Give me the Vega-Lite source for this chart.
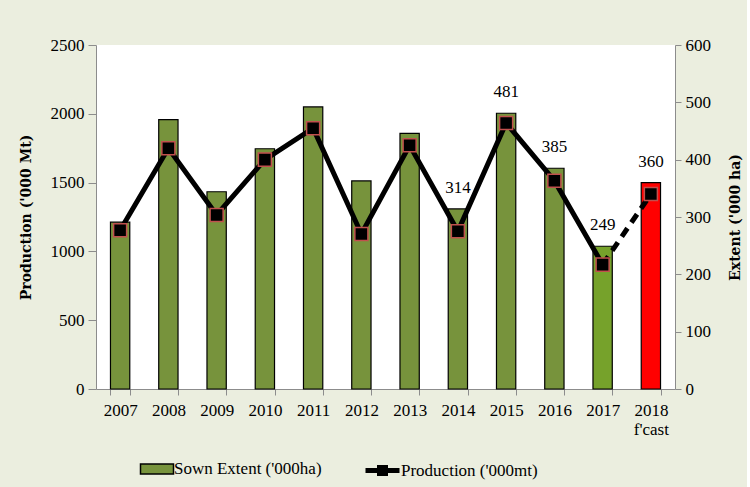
{
  "$schema": "https://vega.github.io/schema/vega-lite/v6.json",
  "width": 579,
  "height": 344,
  "padding": {"left": 19, "top": 36, "right": 4, "bottom": 4},
  "background": "#ebeedf",
  "config": {
    "view": {"fill": "white", "stroke": null},
    "axis": {"domainColor": "#8c8c8c", "tickColor": "#8c8c8c", "grid": false, "labelColor": "black", "titleColor": "black"},
    "legend": {"labelFont": "Liberation Serif", "labelFontSize": 17, "labelLimit": 300, "labelColor": "black"}
  },
  "data": {
    "values": [
      {"year": "2007", "extent": 291, "production": 1153, "label": null},
      {"year": "2008", "extent": 470, "production": 1749, "label": null},
      {"year": "2009", "extent": 344, "production": 1265, "label": null},
      {"year": "2010", "extent": 419, "production": 1667, "label": null},
      {"year": "2011", "extent": 492, "production": 1895, "label": null},
      {"year": "2012", "extent": 363, "production": 1127, "label": null},
      {"year": "2013", "extent": 446, "production": 1771, "label": null},
      {"year": "2014", "extent": 314, "production": 1146, "label": "314"},
      {"year": "2015", "extent": 481, "production": 1933, "label": "481"},
      {"year": "2016", "extent": 385, "production": 1514, "label": "385"},
      {"year": "2017", "extent": 249, "production": 904, "label": "249"},
      {"year": "2018", "extent": 360, "production": 1417, "label": "360"}
    ]
  },
  "encoding": {
    "x": {
      "field": "year",
      "type": "nominal",
      "scale": {"paddingInner": 0.6, "paddingOuter": 0.3},
      "axis": {
        "title": null,
        "labelAngle": 0,
        "labelFont": "Liberation Serif",
        "labelFontSize": 17,
        "tickBand": "extent",
        "tickSize": 6,
        "labelPadding": 7,
        "labelExpr": "datum.value == '2018' ? ['2018', \"f'cast\"] : datum.value"
      }
    }
  },
  "layer": [
    {
      "layer": [
        {
          "mark": {"type": "bar", "stroke": "black", "strokeWidth": 1.2},
          "encoding": {
            "y": {
              "field": "extent",
              "type": "quantitative",
              "scale": {"domain": [0, 600], "nice": false},
              "axis": {
                "orient": "right",
                "title": "Extent ('000 ha)",
                "titleAngle": 270,
                "titleFont": "DejaVu Serif",
                "titleFontWeight": "bold",
                "titleFontSize": 14,
                "titlePadding": 32,
                "labelFont": "Liberation Serif",
                "labelFontSize": 17,
                "format": "d",
                "values": [0, 100, 200, 300, 400, 500, 600],
                "tickSize": 6,
                "labelPadding": 4
              }
            },
            "fill": {
              "datum": "Sown Extent ('000ha)",
              "type": "nominal",
              "scale": {"range": ["#77933c"]},
              "condition": [
                {"test": "datum.year == '2018'", "value": "#ff0000"},
                {"test": "datum.year == '2017'", "value": "#76a22b"}
              ],
              "legend": {
                "title": null,
                "orient": "none",
                "legendX": 50,
                "legendY": 413,
                "labelOffset": 6,
                "symbolType": "M-1.65,-0.5H1.65V0.5H-1.65Z",
                "symbolSize": 400,
                "symbolStrokeColor": "black",
                "symbolStrokeWidth": 1.5
              }
            }
          }
        },
        {
          "transform": [{"filter": "datum.label != null"}],
          "mark": {"type": "text", "dy": -21, "font": "Liberation Serif", "fontSize": 17, "color": "black"},
          "encoding": {
            "y": {"field": "extent", "type": "quantitative"},
            "text": {"field": "label"}
          }
        }
      ]
    },
    {
      "layer": [
        {
          "transform": [{"filter": "datum.year != '2018'"}],
          "mark": {"type": "line", "strokeWidth": 5},
          "encoding": {
            "y": {
              "field": "production",
              "type": "quantitative",
              "scale": {"domain": [0, 2500], "nice": false},
              "axis": {
                "orient": "left",
                "title": "Production ('000 Mt)",
                "titleFont": "DejaVu Serif",
                "titleFontWeight": "bold",
                "titleFontSize": 14,
                "titlePadding": 17,
                "labelFont": "Liberation Serif",
                "labelFontSize": 17,
                "format": "d",
                "values": [0, 500, 1000, 1500, 2000, 2500],
                "tickSize": 8,
                "labelPadding": 4
              }
            },
            "stroke": {
              "datum": "Production ('000mt)",
              "type": "nominal",
              "scale": {"range": ["black"]},
              "legend": {
                "title": null,
                "orient": "none",
                "legendX": 274,
                "legendY": 413,
                "labelOffset": 6,
                "symbolType": "M-1.7,0H1.7M-0.3,-0.3H0.3V0.3H-0.3Z",
                "symbolSize": 400,
                "symbolStrokeWidth": 5,
                "symbolFillColor": "black"
              }
            }
          }
        },
        {
          "transform": [{"filter": "datum.year == '2017' || datum.year == '2018'"}],
          "mark": {"type": "line", "strokeWidth": 5, "strokeDash": [10, 7]},
          "encoding": {
            "y": {"field": "production", "type": "quantitative"},
            "stroke": {"datum": "Production ('000mt)", "type": "nominal"}
          }
        },
        {
          "mark": {"type": "point", "shape": "square", "filled": true, "fill": "black", "stroke": "#c0504d", "strokeWidth": 1.5, "size": 170, "opacity": 1},
          "encoding": {
            "y": {"field": "production", "type": "quantitative"}
          }
        }
      ]
    }
  ],
  "resolve": {"scale": {"y": "independent"}}
}
